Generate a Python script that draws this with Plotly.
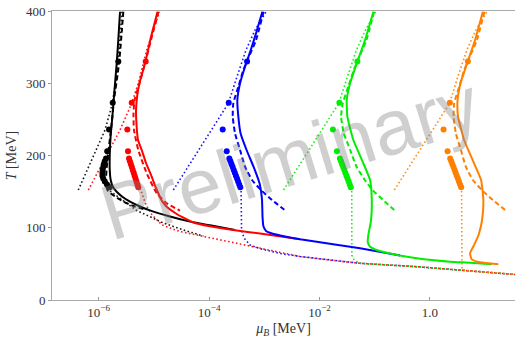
import numpy as np
import plotly.graph_objects as go

# ---------------- data (log10 of mu_B in MeV, T in MeV) ----------------
colors = ["#000000", "#ff0000", "#0000ff", "#00ee00", "#ff8000"]
names = ["black", "red", "blue", "green", "orange"]

# solid curves
black_solid_logmu = [-5.614, -5.645, -5.674, -5.714, -5.750, -5.783, -5.800, -5.800, -5.783, -5.741, -5.674,
                     -5.578, -5.433, -5.252, -5.071, -4.708, -4.346, -3.984, -3.531]
black_solid_T = [399, 360, 327.6, 290.7, 256.1, 228.4, 200.7, 179.9, 166.1, 156.4, 149.9,
                 143.3, 136.1, 129.4, 124.0, 115.5, 108.5, 103.5, 96.9]
red_solid_logmu = [-4.935, -5.053, -5.161, -5.261, -5.301, -5.324, -5.315, -5.288, -5.221, -5.143, -5.040,
                   -4.971, -4.920, -4.853, -4.768, -4.587, -4.286, -3.984, -3.531, -3.078, -2.353]
red_solid_T = [399, 364, 327.6, 300.3, 283.7, 263.0, 242.2, 221.5, 207.6, 189.6, 170.7,
               156.4, 147.7, 137.0, 129.1, 119.0, 107.3, 102.0, 96.5, 92.0, 84.0]
blue_solid_logmu = [-3.036, -3.150, -3.246, -3.350, -3.440, -3.489, -3.471, -3.431, -3.322, -3.196, -3.087,
                    -3.042, -3.033, -3.018, -2.969, -2.861, -2.625, -2.353, -1.755, -1.266, -0.541]
blue_solid_T = [399, 369.1, 346.0, 322.9, 299.9, 276.8, 253.7, 230.7, 207.6, 184.5, 161.5,
                138.4, 115.3, 102.4, 95.5, 92.0, 87.9, 84.0, 77.1, 71.6, 61.6]
green_solid_logmu = [-1.025, -1.176, -1.326, -1.447, -1.507, -1.496, -1.388, -1.207, -1.085, -1.054, -1.067,
                     -1.116, -1.127, -1.085, -0.964, -0.723, -0.239, 0.364, 0.726, 1.120]
green_solid_T = [399, 359.9, 327.6, 299.9, 276.8, 253.7, 221.5, 189.2, 166.1, 138.4, 110.7,
                 90.0, 80.3, 73.8, 69.2, 64.4, 57.7, 53.0, 51.6, 49.4]
orange_solid_logmu = [0.957, 0.817, 0.672, 0.554, 0.500, 0.509, 0.618, 0.799, 0.926, 0.967, 0.944,
                      0.880, 0.790, 0.726, 0.757, 0.908, 1.239]
orange_solid_T = [399, 359.9, 327.6, 299.9, 276.8, 253.7, 221.5, 189.2, 166.1, 138.4, 110.7,
                  90.0, 74.7, 64.6, 56.3, 52.2, 49.4]

# dashed curves
black_dash_logmu = [-5.554, -5.632, -5.723, -5.777, -5.822, -5.859, -5.868, -5.832, -5.705, -5.554, -5.373, -5.161]
black_dash_T = [399, 327.6, 276.8, 235.3, 207.6, 179.9, 159.2, 150.9, 143.3, 136.3, 130.1, 125.3]
red_dash_logmu = [-4.917, -5.053, -5.161, -5.270, -5.351, -5.370, -5.361, -5.283, -5.130, -4.949, -4.768, -4.527]
red_dash_T = [399, 359.9, 327.6, 297.6, 276.8, 256.1, 235.3, 207.6, 175.4, 147.7, 133.8, 123.6]
blue_dash_logmu = [-3.014, -3.150, -3.290, -3.380, -3.471, -3.562, -3.572, -3.531, -3.440, -3.350, -3.223,
                   -3.060, -2.861, -2.594]
blue_dash_T = [399, 359.9, 334.9, 318.3, 295.2, 272.2, 253.7, 230.7, 207.6, 184.5, 166.1, 152.2, 138.4, 122.2]
green_dash_logmu = [-1.014, -1.150, -1.290, -1.380, -1.480, -1.580, -1.610, -1.560, -1.445, -1.330, -1.180,
                    -1.040, -0.850, -0.610]
green_dash_T = [399, 359.9, 334.9, 318.3, 295.2, 272.2, 253.7, 230.7, 207.6, 184.5, 166.1, 152.2, 138.4, 122.2]
orange_dash_logmu = [0.986, 0.850, 0.710, 0.620, 0.529, 0.438, 0.428, 0.469, 0.560, 0.650, 0.777,
                     0.940, 1.139, 1.400]
orange_dash_T = [399, 359.9, 334.9, 318.3, 295.2, 272.2, 253.7, 230.7, 207.6, 184.5, 166.1, 152.2, 138.4, 122.2]

# dotted curves (upper branch)
black_dotA_logmu = [-6.370, -6.127, -5.886, -5.759, -5.687, -5.632, -5.578]
black_dotA_T = [152.2, 193.8, 235.3, 269.9, 304.5, 346.0, 399]
red_dotA_logmu = [-6.188, -5.904, -5.614, -5.402, -5.283, -5.130, -4.899]
red_dotA_T = [152.2, 193.8, 235.3, 272.2, 299.9, 346.0, 399]
blue_dotA_logmu = [-4.649, -4.188, -3.652, -3.495, -3.332, -3.168, -2.969]
blue_dotA_T = [152.2, 207.6, 272.2, 309.1, 346.0, 373.7, 399]
green_dotA_logmu = [-2.652, -2.188, -1.652, -1.495, -1.332, -1.168, -0.985]
green_dotA_T = [152.2, 207.6, 272.2, 309.1, 346.0, 373.7, 399]
orange_dotA_logmu = [-0.645, -0.188, 0.355, 0.505, 0.668, 0.832, 1.031]
orange_dotA_T = [152.2, 207.6, 272.2, 309.1, 346.0, 373.7, 399]

# dotted curves (lower branch)
black_dotB_logmu = [-5.795, -5.578, -5.312, -4.830, -4.437, -4.105]
black_dotB_T = [150.9, 138.8, 123.9, 106.6, 96.2, 88.6]
red_dotB_logmu = [-5.252, -5.143, -5.034, -4.853, -4.527, -4.105, -3.562, -2.957, -2.353, -1.750, -1.266,
                  -0.239, 0.545, 1.541]
red_dotB_T = [155.0, 131.5, 117.6, 103.8, 94.8, 87.9, 79.3, 69.9, 60.2, 54.7, 50.8, 46.1, 41.5, 35.3]
blue_dotB_logmu = [-3.422, -3.417, -3.413, -3.368, -3.259, -3.078, -2.716, -2.353, -1.750, -1.266,
                   -0.239, 0.545, 1.541]
blue_dotB_T = [156.4, 124.6, 96.9, 85.8, 76.1, 71.0, 64.4, 60.2, 54.7, 50.8, 46.1, 41.5, 35.3]
green_dotB_logmu = [-1.417, -1.417, -1.415, -1.375, -1.266, -0.239, 0.545, 1.541]
green_dotB_T = [156.4, 96.9, 62.0, 55.4, 50.8, 46.1, 41.5, 35.3]
orange_dotB_logmu = [0.572, 0.572, 0.580, 0.700, 1.541]
orange_dotB_T = [156.4, 90.0, 42.0, 40.5, 35.3]

# data points
marker_T = [330, 273, 236, 206, 196, 192, 188, 184, 180, 176, 172, 168, 164, 160, 156]
black_pts_logmu = [-5.645, -5.746, -5.813, -5.846, -5.868, -5.891, -5.908, -5.918, -5.928, -5.933, -5.933,
                   -5.918, -5.889, -5.850, -5.801]
red_pts_logmu = [-5.149, -5.402, -5.482, -5.469, -5.451, -5.435, -5.417, -5.400, -5.384, -5.366, -5.350,
                 -5.333, -5.317, -5.299, -5.283]
blue_pts_logmu = [-3.313, -3.645, -3.754, -3.681, -3.634, -3.614, -3.594, -3.574, -3.554, -3.535, -3.515,
                  -3.495, -3.475, -3.455, -3.435]
green_pts_logmu = [-1.315, -1.641, -1.758, -1.685, -1.632, -1.612, -1.592, -1.572, -1.552, -1.533, -1.513,
                   -1.493, -1.473, -1.453, -1.435]
orange_pts_logmu = [0.687, 0.360, 0.246, 0.319, 0.366, 0.386, 0.406, 0.426, 0.446, 0.465, 0.485,
                    0.505, 0.525, 0.545, 0.565]

x_tick_vals = [1e-6, 1e-4, 1e-2, 1.0]
x_tick_text = ["10<sup>−6</sup>", "10<sup>−4</sup>", "10<sup>−2</sup>", "1.0"]
y_tick_vals = [0, 100, 200, 300, 400]

# ---------------- figure ----------------
solids = [(black_solid_logmu, black_solid_T), (red_solid_logmu, red_solid_T), (blue_solid_logmu, blue_solid_T),
          (green_solid_logmu, green_solid_T), (orange_solid_logmu, orange_solid_T)]
dashes = [(black_dash_logmu, black_dash_T), (red_dash_logmu, red_dash_T), (blue_dash_logmu, blue_dash_T),
          (green_dash_logmu, green_dash_T), (orange_dash_logmu, orange_dash_T)]
dotsA = [(black_dotA_logmu, black_dotA_T), (red_dotA_logmu, red_dotA_T), (blue_dotA_logmu, blue_dotA_T),
         (green_dotA_logmu, green_dotA_T), (orange_dotA_logmu, orange_dotA_T)]
dotsB = [(black_dotB_logmu, black_dotB_T), (red_dotB_logmu, red_dotB_T), (blue_dotB_logmu, blue_dotB_T),
         (green_dotB_logmu, green_dotB_T), (orange_dotB_logmu, orange_dotB_T)]
points = [black_pts_logmu, red_pts_logmu, blue_pts_logmu, green_pts_logmu, orange_pts_logmu]


def mu(lg):
    return 10 ** np.asarray(lg, dtype=float)


fig = go.Figure()
for group in (dotsA, dotsB):
    for (lg, T), c in zip(group, colors):
        fig.add_trace(go.Scatter(x=mu(lg), y=T, mode="lines", opacity=0.9,
                                 line=dict(color=c, width=1.6, dash="1.6px,2.4px")))
for (lg, T), c in zip(dashes, colors):
    fig.add_trace(go.Scatter(x=mu(lg), y=T, mode="lines",
                             line=dict(color=c, width=2, dash="5px,3px", shape="spline", smoothing=0.5)))
for (lg, T), c in zip(solids, colors):
    fig.add_trace(go.Scatter(x=mu(lg), y=T, mode="lines",
                             line=dict(color=c, width=2, shape="spline", smoothing=0.45)))
for lg, c in zip(points, colors):
    fig.add_trace(go.Scatter(x=mu(lg), y=marker_T, mode="markers",
                             marker=dict(color=c, size=6, line=dict(width=0))))

tick_font = dict(family="Liberation Serif, serif", size=13, color="#333333")
fig.update_layout(
    width=515, height=342,
    margin=dict(l=52, r=0, t=11, b=42),
    plot_bgcolor="white", paper_bgcolor="white",
    showlegend=False,
    xaxis=dict(type="log", range=[-6.846, 1.54], tickvals=x_tick_vals, ticktext=x_tick_text,
               ticks="inside", ticklen=3, tickcolor="#999999", showline=True, linecolor="#aaaaaa",
               linewidth=1, mirror=True, showgrid=False, zeroline=False, tickfont=tick_font,
               title=dict(text="<i>μ</i><sub><i>B</i></sub> [MeV]",
                          font=dict(family="Liberation Serif, serif", size=14, color="#333333"), standoff=4)),
    yaxis=dict(range=[0, 400], tickvals=y_tick_vals, ticks="outside", ticklen=3, tickcolor="#999999",
               showline=True, linecolor="#aaaaaa", linewidth=1, showgrid=False, zeroline=False,
               tickfont=tick_font,
               title=dict(text="<i>T</i> [MeV]",
                          font=dict(family="Liberation Serif, serif", size=14, color="#333333"), standoff=6)),
    annotations=[dict(text="Preliminary", x=0.515, y=0.49, xref="paper", yref="paper", showarrow=False,
                      textangle=-17, font=dict(family="Liberation Sans, Arial, sans-serif", size=78,
                                               color="rgba(128,128,128,0.38)"))],
)

fig.write_html("out.html")
